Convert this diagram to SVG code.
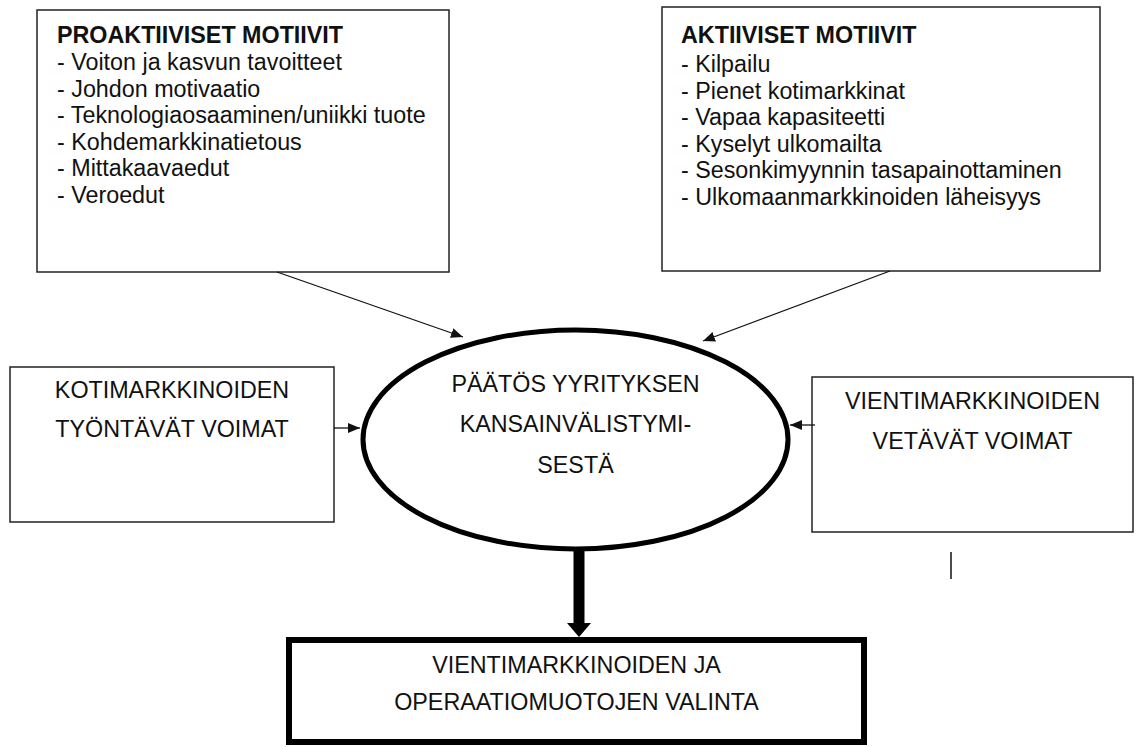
<svg xmlns="http://www.w3.org/2000/svg" width="1137" height="747" viewBox="0 0 1137 747">
<style>
.box{fill:#fff;stroke:#222;stroke-width:1.5}
.t{font-family:"Liberation Sans",Arial,sans-serif;font-size:23.3px;fill:#111}
.b{font-weight:bold}
.c{text-anchor:middle}
.ln{stroke:#111;stroke-width:1.3;fill:none}
</style>
<defs>
<marker id="ah" viewBox="0 0 12 10" refX="12" refY="5" markerWidth="12" markerHeight="10" markerUnits="userSpaceOnUse" orient="auto">
<path d="M0,0 L12,5 L0,10 z" fill="#111"/>
</marker>
</defs>
<rect width="1137" height="747" fill="#fff"/>
<g id="proaktiiviset">
<rect class="box" x="37" y="10" width="412" height="262"/>
<text class="t b" x="57" y="43">PROAKTIIVISET MOTIIVIT</text>
<text class="t" x="57" y="70">- Voiton ja kasvun tavoitteet</text>
<text class="t" x="57" y="96.5">- Johdon motivaatio</text>
<text class="t" x="57" y="123">- Teknologiaosaaminen/uniikki tuote</text>
<text class="t" x="57" y="149.5">- Kohdemarkkinatietous</text>
<text class="t" x="57" y="176">- Mittakaavaedut</text>
<text class="t" x="57" y="202.5">- Veroedut</text>
</g>
<g id="aktiiviset">
<rect class="box" x="662" y="7" width="438" height="264"/>
<text class="t b" x="681" y="43">AKTIIVISET MOTIIVIT</text>
<text class="t" x="681" y="72">- Kilpailu</text>
<text class="t" x="681" y="98.5">- Pienet kotimarkkinat</text>
<text class="t" x="681" y="125">- Vapaa kapasiteetti</text>
<text class="t" x="681" y="151.5">- Kyselyt ulkomailta</text>
<text class="t" x="681" y="178">- Sesonkimyynnin tasapainottaminen</text>
<text class="t" x="681" y="204.5">- Ulkomaanmarkkinoiden läheisyys</text>
</g>
<g id="kotimarkkinat">
<rect class="box" x="10" y="367" width="324" height="155"/>
<text class="t c" x="172" y="398">KOTIMARKKINOIDEN</text>
<text class="t c" x="172" y="437">TYÖNTÄVÄT VOIMAT</text>
</g>
<g id="paatos">
<ellipse cx="575.5" cy="439.5" rx="212.5" ry="109.5" fill="#fff" stroke="#000" stroke-width="5"/>
<text class="t c" x="575.5" y="392">PÄÄTÖS YYRITYKSEN</text>
<text class="t c" x="575.5" y="432">KANSAINVÄLISTYMI-</text>
<text class="t c" x="575.5" y="473">SESTÄ</text>
</g>
<g id="vientimarkkinat">
<rect class="box" x="812" y="377" width="321" height="155"/>
<text class="t c" x="972.5" y="409">VIENTIMARKKINOIDEN</text>
<text class="t c" x="972.5" y="449">VETÄVÄT VOIMAT</text>
</g>
<g id="valinta">
<rect x="289" y="640" width="575" height="102" fill="#fff" stroke="#000" stroke-width="6"/>
<text class="t c" x="576.5" y="673">VIENTIMARKKINOIDEN JA</text>
<text class="t c" x="576.5" y="710">OPERAATIOMUOTOJEN VALINTA</text>
</g>
<g id="connectors">
<line class="ln" x1="277" y1="272" x2="463" y2="337" marker-end="url(#ah)"/>
<line class="ln" x1="890" y1="271" x2="703" y2="341" marker-end="url(#ah)"/>
<line class="ln" x1="334" y1="428" x2="360" y2="428" marker-end="url(#ah)"/>
<line class="ln" x1="815" y1="425" x2="790" y2="425" marker-end="url(#ah)"/>
<line x1="579" y1="550" x2="579" y2="625" stroke="#000" stroke-width="11"/>
<path d="M567,623 L591,623 L579,637 z" fill="#000"/>
<line x1="951" y1="552" x2="951" y2="579" stroke="#111" stroke-width="1.5"/>
</g>
</svg>
